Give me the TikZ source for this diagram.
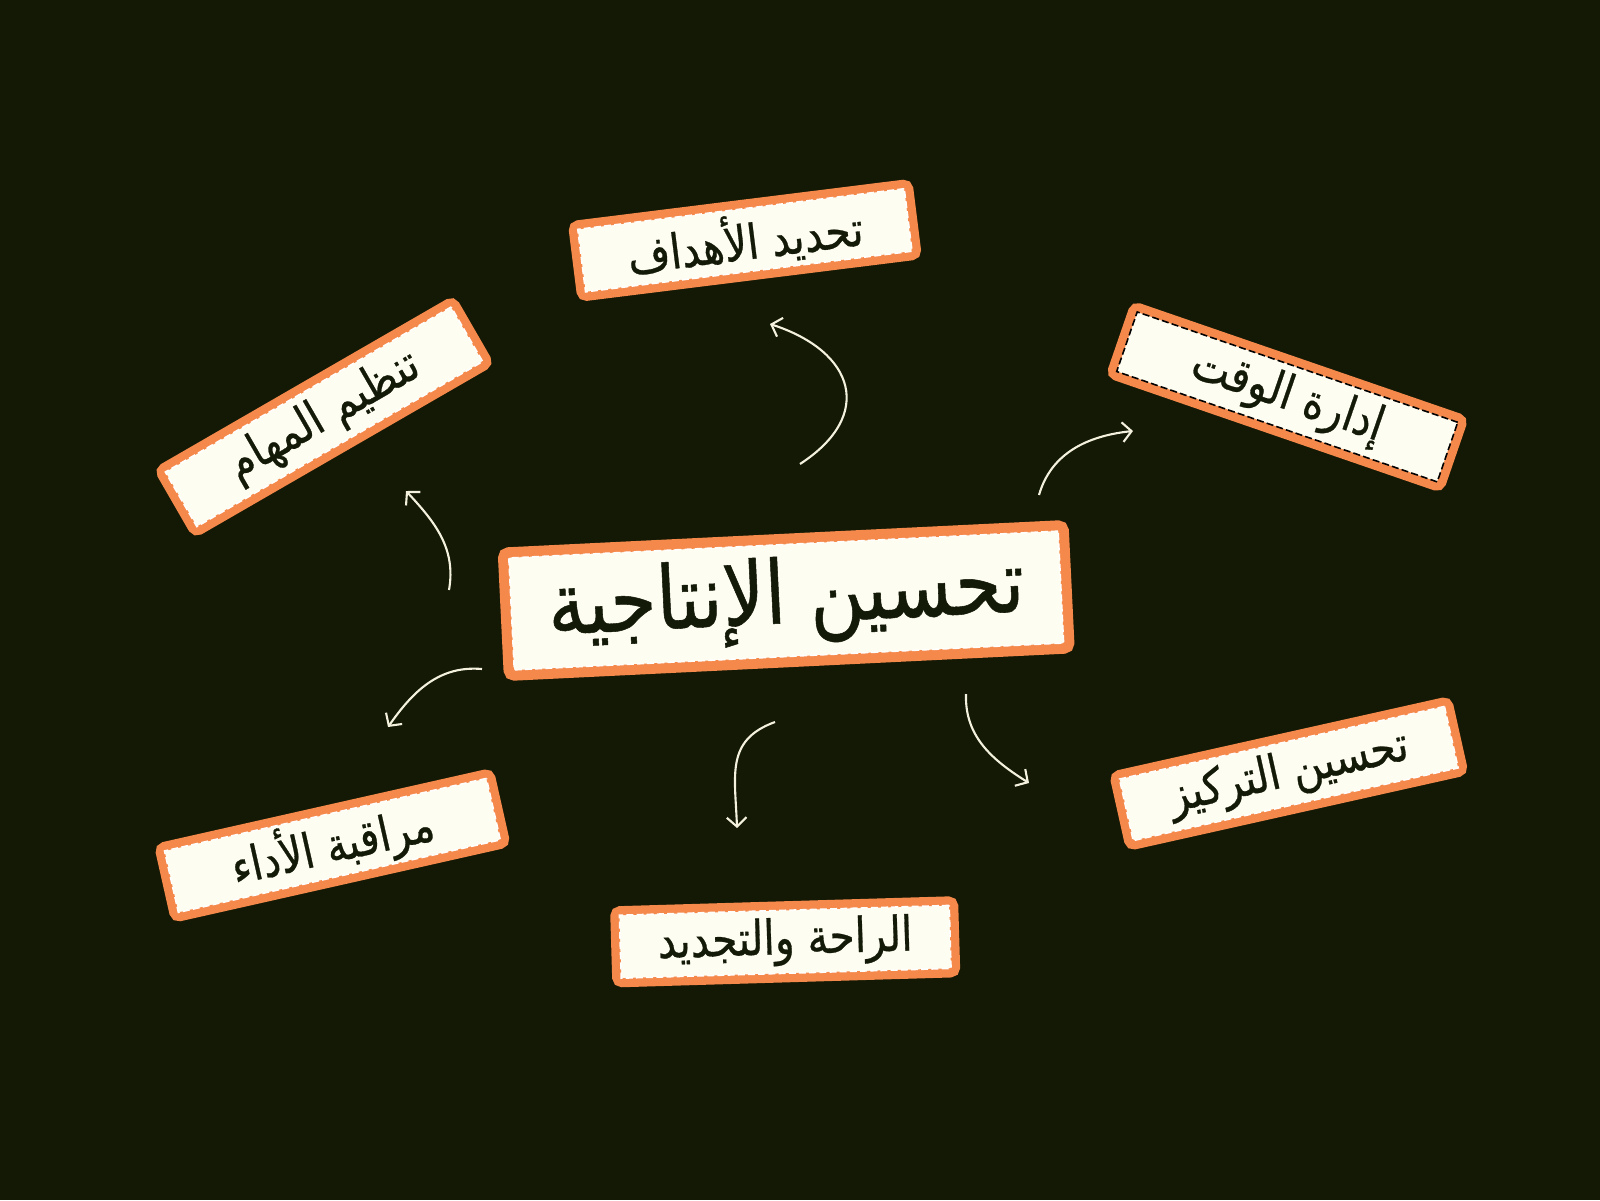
\documentclass[tikz,border=0pt]{standalone}
\usepackage{fontspec}
\newfontfamily\arabicfont[Script=Arabic, FakeStretch=0.85, FakeBold=0.6]{DejaVu Sans}
\TeXXeTstate=1
\usetikzlibrary{arrows.meta}

\definecolor{bgdark}{HTML}{131905}
\definecolor{boxorange}{HTML}{F5894B}
\definecolor{boxcream}{HTML}{FDFDF1}
\definecolor{inkdark}{HTML}{141A08}
\definecolor{chalk}{HTML}{F4F2DE}

\tikzset{
  box/.style={draw=boxorange, fill=boxcream, rounded corners=1.5pt, inner sep=0pt, text=inkdark},
  mainbox/.style={box, line width=3pt, minimum width=5.61cm, minimum height=1.23cm,
    font=\arabicfont\fontsize{25}{30}\selectfont},
  subbox/.style={box, line width=2.6pt, minimum height=0.72cm,
    font=\arabicfont\fontsize{13.7}{16}\selectfont},
  seam/.style={draw=#1, line width=0.45pt, dash pattern=on 2pt off 0.9pt, inner sep=0pt},
  flow/.style={draw=chalk, line width=0.6pt, -{Straight Barb[length=2.6pt,width=5.6pt]}, looseness=#1},
}

\begin{document}
\begin{tikzpicture}
% Nền
\fill[bgdark] (0,0) rectangle (16,12);
\useasboundingbox (0,0) rectangle (16,12);

% Ô trung tâm
\node[mainbox, rotate=2.8] (core) at (7.862,5.995) {\beginR تحسين الإنتاجية\endR};
\node[seam=white, rotate=2.8, minimum width=5.50cm, minimum height=1.12cm] (coreSeam) at (core) {};

% Các ô xung quanh
\foreach \name/\pos/\ang/\bw/\dcol/\txt in {
    goals/{(7.449,9.597)}/7.1/3.38/white/{تحديد الأهداف},
    time/{(12.872,8.031)}/-19/3.48/black/{إدارة الوقت},
    tasks/{(3.240,7.832)}/30/3.39/white/{تنظيم المهام},
    perf/{(3.324,3.546)}/12.7/3.39/white/{مراقبة الأداء},
    rest/{(7.852,2.582)}/1.7/3.39/white/{الراحة والتجديد},
    focus/{(12.888,4.265)}/12.6/3.42/white/{تحسين التركيز}} {
    \node[subbox, rotate=\ang, minimum width=\bw cm] (\name) at \pos {\beginR\txt\endR};
    \node[seam=\dcol, rotate=\ang, minimum width={(\bw-0.09)*1cm}, minimum height=0.63cm] (\name-seam) at (\name) {};
}

% Đầu và cuối các mũi tên
\coordinate (goals-from) at (8.00,7.36);  \coordinate (goals-to) at (7.70,8.76);
\coordinate (time-from)  at (10.39,7.05); \coordinate (time-to)  at (11.33,7.69);
\coordinate (tasks-from) at (4.49,6.10);  \coordinate (tasks-to) at (4.06,7.09);
\coordinate (perf-from)  at (4.82,5.31);  \coordinate (perf-to)  at (3.88,4.73);
\coordinate (rest-from)  at (7.75,4.78);  \coordinate (rest-to)  at (7.37,3.72);
\coordinate (focus-from) at (9.66,5.06);  \coordinate (focus-to) at (10.29,4.17);

% Mũi tên cong
\foreach \a/\o/\i/\l in {goals/33/-18/1.6, time/74/186/1, tasks/80/-47/1,
    perf/175/55/1, rest/200/92/1.2, focus/268/148/1} {
    \draw[flow=\l] (\a-from) to[out=\o, in=\i] (\a-to);
}
\end{tikzpicture}
\end{document}
